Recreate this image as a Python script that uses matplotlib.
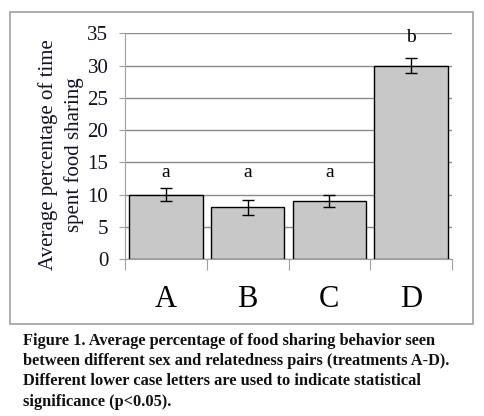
import matplotlib
matplotlib.use("Agg")
import matplotlib.pyplot as plt
from matplotlib.patches import Rectangle

categories = ["A", "B", "C", "D"]
means = [10.0, 8.05, 9.0, 30.0]
errors = [1.0, 1.15, 0.9, 1.1]
letters = ["a", "a", "a", "b"]
letter_y = [13.4, 13.4, 13.4, 34.4]
yticks = [0, 5, 10, 15, 20, 25, 30, 35]
ylabel = "Average percentage of time\nspent food sharing"
caption = ("Figure 1. Average percentage of food sharing behavior seen\n"
           "between different sex and relatedness pairs (treatments A-D).\n"
           "Different lower case letters are used to indicate statistical\n"
           "significance (p<0.05).")

serif = ["Liberation Serif", "DejaVu Serif"]
fig = plt.figure(figsize=(4.84, 4.16), dpi=100)
fig.patches.append(Rectangle((10/484, 92/416), 463/484, 312/416, transform=fig.transFigure,
                             fill=False, edgecolor="#a0a0a0", linewidth=1.2))

ax = fig.add_axes([125/484, 156.7/416, 327/484, 226/416])
x = list(range(len(categories)))
ax.bar(x, means, width=0.9, color="#c8c8c8", edgecolor="black", linewidth=1.0, zorder=2)
ax.errorbar(x, means, yerr=errors, fmt="none", ecolor="black", elinewidth=1.0,
            capsize=4, capthick=1.0, zorder=3)
for xi, l, ly in zip(x, letters, letter_y):
    ax.text(xi, ly, l, ha="center", va="center", fontsize=14, family=serif, color="black")

ax.set_xlim(-0.5, 3.5)
ax.set_ylim(0, 35)
ax.set_yticks(yticks)
ax.set_yticklabels([str(t) for t in yticks], fontsize=15, family=serif, color="#111122")
ax.yaxis.grid(True, color="#8c8c8c", linewidth=1.0, zorder=0)
ax.set_axisbelow(True)
for s in ["top", "right"]:
    ax.spines[s].set_visible(False)
ax.spines["left"].set_color("#a0a0a0")
ax.spines["bottom"].set_color("#a0a0a0")
ax.tick_params(axis="y", length=4, color="#a0a0a0", pad=8)
ax.set_xticks([-0.5, 0.5, 1.5, 2.5, 3.5])
ax.set_xticklabels([])
ax.tick_params(axis="x", length=8, color="#a0a0a0")
for xi, c in zip(x, categories):
    ax.text(xi, -0.18, c, transform=ax.get_xaxis_transform(), ha="center", va="center",
            fontsize=22, family=serif, color="black")
ax.set_ylabel(ylabel, fontsize=15, family=serif, color="#111122", linespacing=1.4,
              labelpad=2.5, y=0.465)

fig.text(23/484, 1 - 333/416, caption, ha="left", va="top", fontsize=11.8,
         family=serif, fontweight="bold", color="#111111", linespacing=1.35)

fig.savefig("out.png", dpi=100)
